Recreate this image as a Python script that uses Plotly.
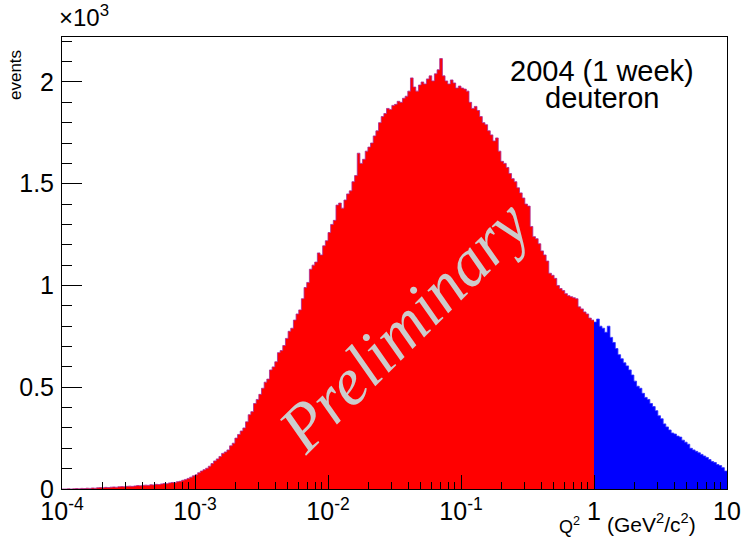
import numpy as np
import plotly.graph_objects as go

# Histogram contents: 50 log-spaced bins per decade, Q^2 from 1e-4 to 10
decade_m4 = [0, 0, 1, 0, 1, 2, 1, 3, 2, 4, 3, 5, 4, 6, 7, 6, 8, 7, 9, 10,
             9, 11, 12, 11, 13, 14, 13, 15, 17, 16, 18, 19, 18, 21, 20, 23, 22, 25, 27, 26,
             30, 32, 31, 36, 38, 43, 47, 52, 58, 65]
decade_m3 = [70, 80, 88, 95, 102, 112, 125, 138, 148, 160, 175, 182, 192, 212, 225, 250, 268, 285, 300, 330,
             365, 380, 420, 440, 465, 495, 525, 540, 585, 600, 625, 670, 680, 705, 740, 775, 790, 830, 860, 880,
             935, 990, 1015, 1080, 1100, 1115, 1160, 1150, 1195, 1220]
decade_m2 = [1260, 1300, 1320, 1395, 1405, 1380, 1420, 1450, 1465, 1510, 1540, 1650, 1600, 1620, 1660, 1680, 1700, 1735, 1760, 1800,
             1830, 1845, 1870, 1865, 1885, 1890, 1905, 1900, 1920, 1930, 1955, 2020, 1975, 1955, 1985, 2000, 1990, 2015, 2030, 2005,
             2040, 2060, 2115, 2030, 2005, 1990, 2010, 1995, 1970, 1980]
decade_m1 = [1970, 1965, 1955, 1900, 1870, 1880, 1860, 1830, 1800, 1790, 1760, 1740, 1710, 1725, 1660, 1610, 1600, 1580, 1550, 1525,
             1510, 1480, 1455, 1430, 1400, 1390, 1290, 1240, 1230, 1205, 1170, 1150, 1120, 1060, 1050, 1035, 1000, 985, 975, 960,
             950, 945, 940, 935, 895, 885, 870, 860, 840, 830]
decade_0 = [820, 835, 800, 790, 770, 800, 745, 720, 690, 660, 640, 620, 605, 585, 560, 530, 505, 495, 470, 450,
            440, 420, 405, 385, 360, 345, 320, 305, 290, 275, 270, 260, 255, 240, 230, 220, 200, 192, 185, 178,
            170, 162, 155, 145, 135, 130, 120, 115, 105, 88]

tick_vals = [1e-4, 1e-3, 1e-2, 1e-1, 1, 10]
tick_text = ["10<sup>-4</sup>", "10<sup>-3</sup>", "10<sup>-2</sup>", "10<sup>-1</sup>", "1", "10"]
y_tick_vals = [0, 500, 1000, 1500, 2000]
y_tick_text = ["0", "0.5", "1", "1.5", "2"]

bins_per_decade = 50
red_counts = decade_m4 + decade_m3 + decade_m2 + decade_m1
blue_counts = decade_0
n_red = len(red_counts)
n_all = n_red + len(blue_counts)
edges = 10 ** (-4 + np.arange(n_all + 1) / bins_per_decade)


def step(e, c):
    xs = list(e)
    ys = list(c) + [c[-1]]
    return xs, ys


rx, ry = step(edges[:n_red + 1], red_counts)
bx, by = step(edges[n_red:], blue_counts)

fig = go.Figure()
fig.add_trace(go.Scatter(x=rx, y=ry, mode="lines", line=dict(shape="hv", color="rgb(170,40,150)", width=0.8),
                         fill="tozeroy", fillcolor="#ff0000", hoverinfo="skip", showlegend=False))
fig.add_trace(go.Scatter(x=bx, y=by, mode="lines", line=dict(shape="hv", color="#3030ff", width=0.8),
                         fill="tozeroy", fillcolor="#0000ff", hoverinfo="skip", showlegend=False))

font_main = "Liberation Sans, Arial, sans-serif"

fig.update_layout(
    width=745, height=538,
    margin=dict(l=62, r=18, t=37, b=49, autoexpand=False),
    paper_bgcolor="white", plot_bgcolor="white",
    font=dict(family=font_main, color="black"),
    xaxis=dict(type="log", range=[-4, 1], tickmode="array", tickvals=tick_vals, ticktext=tick_text,
               ticks="inside", ticklen=14, tickwidth=1, tickcolor="black", automargin=False,
               minor=dict(ticks="inside", ticklen=7, tickwidth=1, tickcolor="black", dtick="D1", showgrid=False),
               showline=True, linecolor="black", linewidth=1, mirror=True, showgrid=False, zeroline=False,
               tickfont=dict(size=25, family=font_main), ticklabelstandoff=0),
    yaxis=dict(range=[0, 2221], tickmode="array", tickvals=y_tick_vals, ticktext=y_tick_text,
               ticks="inside", ticklen=20, tickwidth=1, tickcolor="black", automargin=False,
               minor=dict(ticks="inside", ticklen=10, tickwidth=1, tickcolor="black", dtick=100, showgrid=False),
               showline=True, linecolor="black", linewidth=1, mirror=True, showgrid=False, zeroline=False,
               tickfont=dict(size=25, family=font_main), ticklabelstandoff=2),
)

ann = [
    dict(text="×10<sup>3</sup>", x=57, y=16, xanchor="left", yanchor="middle", font=dict(size=24)),
    dict(text="events", x=15, y=75, textangle=-90, xanchor="center", yanchor="middle", font=dict(size=17)),
    dict(text="Q<sup>2</sup>", x=569, y=525, xanchor="center", yanchor="middle", font=dict(size=18)),
    dict(text="(GeV<sup>2</sup>/c<sup>2</sup>)", x=651, y=523, xanchor="center", yanchor="middle", font=dict(size=21)),
    dict(text="2004 (1 week)", x=602, y=71, xanchor="center", yanchor="middle", font=dict(size=29)),
    dict(text="deuteron", x=602, y=98, xanchor="center", yanchor="middle", font=dict(size=29)),
    dict(text="<i>Preliminary</i>", x=403, y=326, xanchor="center", yanchor="middle", textangle=-45,
         font=dict(size=67, family="Liberation Serif, Times New Roman, serif", color="#cccccc")),
]
for a in ann:
    a.update(xref="paper", yref="paper", showarrow=False)
    a["x"] = (a["x"] - 62) / (727 - 62)
    a["y"] = (489 - a["y"]) / (489 - 37)
fig.update_layout(annotations=ann)

fig.write_html("out.html", config={"displayModeBar": False},
               post_script="document.body.style.margin='0px';")
